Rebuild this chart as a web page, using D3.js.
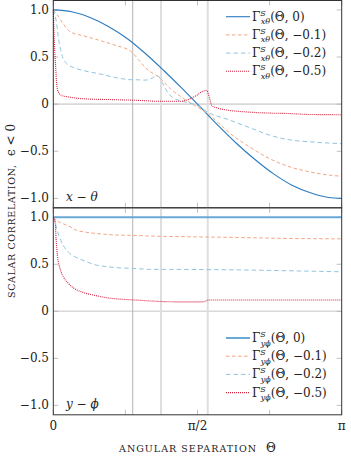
<!DOCTYPE html>
<html>
<head>
<meta charset="utf-8">
<script src="https://cdn.jsdelivr.net/npm/d3@7"></script>
<style>
  body { margin: 0; background: #fff; }
  text { font-family: "DejaVu Serif", "Liberation Serif", serif; fill: #222; }
</style>
</head>
<body>
<div id="chart"></div>
<script>
// ---- data (theta in radians, correlation value) ----
const xTheta_eps0 = [[0,1],[0.2,0.98],[0.4,0.92],[0.6,0.825],[0.8,0.70],[1.0,0.54],[1.2,0.36],[1.4,0.17],
  [1.6,-0.03],[1.8,-0.23],[2.0,-0.42],[2.2,-0.59],[2.4,-0.74],[2.6,-0.86],[2.8,-0.94],[3.0,-0.99],[Math.PI,-1.0]]
const xTheta_eps01 = [[0,1],[0.037,0.956],[0.11,0.85],[0.18,0.77],[0.33,0.725],[0.51,0.675],[0.69,0.62],[0.84,0.565],
  [0.93,0.47],[1.0,0.39],[1.17,0.27],[1.28,0.16],[1.39,0.08],[1.5,0.01],[1.68,-0.10],[1.8,-0.20],[1.925,-0.31],
  [2.14,-0.455],[2.36,-0.58],[2.58,-0.667],[2.8,-0.72],[3.02,-0.755],[Math.PI,-0.765]]
const xTheta_eps02 = [[0,1],[0.037,0.85],[0.055,0.71],[0.092,0.53],[0.145,0.43],[0.218,0.39],[0.327,0.357],[0.51,0.32],
  [0.69,0.28],[0.835,0.26],[0.93,0.258],[1.0,0.255],[1.05,0.262],[1.10,0.29],[1.14,0.30],[1.18,0.24],[1.23,0.15],
  [1.30,0.07],[1.45,0.02],[1.56,-0.01],[1.68,-0.085],[1.925,-0.17],[2.14,-0.25],[2.36,-0.33],[2.58,-0.38],[2.8,-0.40],[Math.PI,-0.42]]
const xTheta_eps05 = [[0,1],[0.008,0.745],[0.026,0.39],[0.037,0.216],[0.055,0.127],[0.092,0.092],[0.182,0.074],[0.327,0.057],
  [0.69,0.047],[0.93,0.04],[1.16,0.03],[1.38,0.03],[1.49,0.057],[1.56,0.092],[1.63,0.137],[1.67,0.145],[1.70,0.074],
  [1.725,-0.014],[1.78,-0.038],[1.82,-0.05],[2.14,-0.085],[2.36,-0.095],[2.58,-0.10],[2.8,-0.11],[Math.PI,-0.112]]

const yPhi_eps0 = [[0,1],[Math.PI,1]]
const yPhi_eps01 = [[0,1],[0.037,0.965],[0.109,0.93],[0.182,0.90],[0.254,0.86],[0.327,0.845],[0.436,0.83],[0.545,0.82],
  [0.69,0.81],[0.87,0.807],[1.05,0.80],[1.27,0.795],[1.64,0.79],[2.0,0.785],[2.5,0.775],[Math.PI,0.77]]
const yPhi_eps02 = [[0,1],[0.02,0.95],[0.037,0.88],[0.073,0.775],[0.109,0.70],[0.163,0.63],[0.218,0.59],[0.29,0.555],
  [0.363,0.527],[0.472,0.49],[0.581,0.475],[0.69,0.463],[0.87,0.456],[1.05,0.446],[1.4,0.445],[2.0,0.44],[2.6,0.43],[Math.PI,0.42]]
const yPhi_eps05 = [[0,1],[0.02,0.95],[0.03,0.775],[0.044,0.60],[0.073,0.457],[0.109,0.367],[0.163,0.297],[0.218,0.25],
  [0.327,0.20],[0.436,0.173],[0.581,0.144],[0.763,0.127],[0.944,0.117],[1.05,0.11],[1.4,0.10],[1.62,0.10],[1.70,0.12],[2.2,0.12],[Math.PI,0.12]]

const epsLabels = ["0", "\u22120.1", "\u22120.2", "\u22120.5"]
const markerAngles = [0.865, 1.173, 1.682]
const xTickValues = [0, Math.PI/4, Math.PI/2, 3*Math.PI/4, Math.PI]
const xTickLabels = ["0", "", "\u03c0/2", "", "\u03c0"]
const yTickValues = [1, 0.5, 0, -0.5, -1]

// ---- layout ----
const width = 351, height = 467
const left = 53.3, right = 341.7
const styles = [
  {color: "#2a7bbf", width: 1.1, dash: null},
  {color: "#f4a582", width: 1, dash: "3.5,2.5"},
  {color: "#92c5de", width: 1, dash: "4.5,3"},
  {color: "#d0213f", width: 1.1, dash: "1,1"}
]

const svg = d3.select("#chart").append("svg")
  .attr("width", width).attr("height", height)

const x = d3.scaleLinear().domain([0, Math.PI]).range([left, right])

const panels = [
  {series: [xTheta_eps0, xTheta_eps01, xTheta_eps02, xTheta_eps05], range: [207.8, 0.5], sub: "x\u03b8",
   tag: "x \u2212 \u03b8", legendY: 16.7, firstStyle: styles[0]},
  {series: [yPhi_eps0, yPhi_eps01, yPhi_eps02, yPhi_eps05], range: [414.8, 207.8], sub: "y\u03d5",
   tag: "y \u2212 \u03d5", legendY: 338, firstStyle: {color: "#6aa8d6", width: 2, dash: null}}
]

panels.forEach((p, pi) => {
  const y = d3.scaleLinear().domain([-1.1, 1.1]).range(p.range)
  const g = svg.append("g")

  // grid: zero line and marker angles
  g.append("line")
    .attr("x1", left).attr("x2", right)
    .attr("y1", y(0)).attr("y2", y(0))
    .attr("stroke", "#d9d9d9").attr("stroke-width", 1.6)
  g.selectAll("line.mark")
    .data(markerAngles)
    .join("line")
    .attr("class", "mark")
    .attr("x1", d => x(d)).attr("x2", d => x(d))
    .attr("y1", p.range[0]).attr("y2", p.range[1])
    .attr("stroke", (d, i) => i == 0 ? "#b3b3b3" : "#dedede")
    .attr("stroke-width", (d, i) => i == 0 ? 1 : 2)

  // ticks, inside on all four sides
  const tk = g.append("g").attr("stroke", "#b0b0b0").attr("stroke-width", 0.8)
  xTickValues.forEach(v => {
    tk.append("line").attr("x1", x(v)).attr("x2", x(v)).attr("y1", p.range[0]).attr("y2", p.range[0] - 5)
    tk.append("line").attr("x1", x(v)).attr("x2", x(v)).attr("y1", p.range[1]).attr("y2", p.range[1] + 5)
  })
  yTickValues.forEach(v => {
    tk.append("line").attr("x1", left).attr("x2", left + 5).attr("y1", y(v)).attr("y2", y(v))
    tk.append("line").attr("x1", right).attr("x2", right - 5).attr("y1", y(v)).attr("y2", y(v))
  })

  g.selectAll("text.ytick")
    .data(yTickValues)
    .join("text")
    .attr("class", "ytick")
    .attr("x", 49).attr("y", d => y(d) + 4)
    .attr("text-anchor", "end")
    .attr("font-size", 12)
    .text(d => d == 0 ? "0" : d3.format(".1f")(d).replace("-", "\u2212"))

  // curves
  const line = d3.line().x(d => x(d[0])).y(d => y(d[1])).curve(d3.curveMonotoneX)
  p.series.forEach((s, i) => {
    const st = i == 0 ? p.firstStyle : styles[i]
    g.append("path")
      .datum(s)
      .attr("fill", "none")
      .attr("stroke", st.color)
      .attr("stroke-width", st.width)
      .attr("stroke-dasharray", st.dash)
      .attr("d", line)
  })

  // frame
  g.append("rect")
    .attr("x", left).attr("y", p.range[1])
    .attr("width", right - left).attr("height", p.range[0] - p.range[1])
    .attr("fill", "none").attr("stroke", "#333").attr("stroke-width", 1)

  // panel tag
  g.append("text")
    .attr("x", 66).attr("y", p.range[0] - 7)
    .attr("font-size", 12).attr("font-style", "italic")
    .text(p.tag)

  // legend
  const lg = g.append("g")
  p.series.forEach((s, i) => {
    const st = i == 0 ? p.firstStyle : styles[i]
    const ly = p.legendY + i * 18.2
    lg.append("line")
      .attr("x1", 226).attr("x2", 250).attr("y1", ly).attr("y2", ly)
      .attr("stroke", st.color).attr("stroke-width", st.width)
      .attr("stroke-dasharray", st.dash)
    const t = lg.append("text").attr("x", 252).attr("y", ly + 4).attr("font-size", 12)
    t.append("tspan").text("\u0393")
    t.append("tspan").attr("font-size", 8).attr("font-style", "italic").attr("dy", -5).text("S")
    t.append("tspan").attr("font-size", 8).attr("font-style", "italic").attr("dx", -5).attr("dy", 8.5).text(p.sub)
    t.append("tspan").attr("dy", -3.5).text("(\u0398, " + epsLabels[i] + ")")
  })
})

// x tick labels
svg.selectAll("text.xtick")
  .data(xTickValues.map((v, i) => [v, xTickLabels[i]]).filter(d => d[1] != ""))
  .join("text")
  .attr("class", "xtick")
  .attr("x", d => x(d[0])).attr("y", 430)
  .attr("text-anchor", "middle")
  .attr("font-size", 12)
  .text(d => d[1])

// axis titles
svg.append("text")
  .attr("x", 119).attr("y", 452)
  .attr("font-size", 9.5)
  .attr("textLength", 137).attr("lengthAdjust", "spacing")
  .text("ANGULAR SEPARATION")
svg.append("text")
  .attr("x", 266).attr("y", 452)
  .attr("font-size", 12)
  .text("\u0398")

const ylab = svg.append("g").attr("transform", "translate(15,298) rotate(-90)")
ylab.append("text")
  .attr("x", 0).attr("y", 0)
  .attr("font-size", 9.5)
  .attr("textLength", 133).attr("lengthAdjust", "spacing")
  .text("SCALAR CORRELATION,")
ylab.append("text")
  .attr("x", 142).attr("y", 0)
  .attr("font-size", 12)
  .text("\u03f5 < 0")
</script>
</body>
</html>
